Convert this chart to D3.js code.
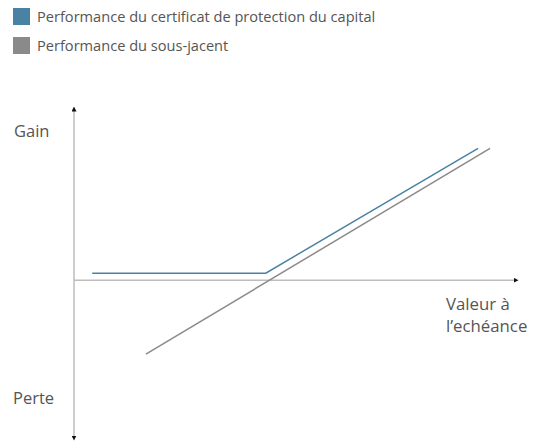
<!DOCTYPE html>
<html>
<head>
<meta charset="utf-8">
<script src="https://cdn.jsdelivr.net/npm/d3@7"></script>
<style>
  html, body { margin: 0; padding: 0; background: #fff; }
  svg { display: block; }
  text { font-family: "Open Sans", "Noto Sans", sans-serif; fill: #555; }
</style>
</head>
<body>
<div id="chart"></div>
<script>
// Series (abstract payoff diagram units)
const seriesNames = ["Performance du certificat de protection du capital", "Performance du sous-jacent"];
const seriesColors = ["#4a82a3", "#8a8a8a"];
const certX = [4.1, 43.2, 91.0];
const certY = [2.1, 2.1, 39.6];
const underX = [16.2, 93.7];
const underY = [-22.2, 39.6];
const yLabels = ["Gain", "Perte"];
const xLabelLines = ["Valeur à", "l\u2019echéance"];

const W = 534, H = 444;
const svg = d3.select("#chart").append("svg").attr("width", W).attr("height", H);

const x = d3.scaleLinear().domain([0, 100]).range([74, 518]);
const y = d3.scaleLinear().domain([-48, 52]).range([440, 107]);

const defs = svg.append("defs");
defs.append("marker").attr("id", "arr").attr("viewBox", "0 0 10 10")
  .attr("refX", 5).attr("refY", 5).attr("markerWidth", 5).attr("markerHeight", 5)
  .attr("markerUnits", "userSpaceOnUse")
  .attr("orient", "auto")
  .append("path").attr("d", "M0,0 L10,5 L0,10 Z").attr("fill", "#111");

// Legend
const leg = svg.append("g");
seriesNames.forEach((name, i) => {
  const g = leg.append("g").attr("transform", `translate(13,${8 + i * 29})`);
  g.append("rect").attr("width", 17).attr("height", 17).attr("fill", seriesColors[i]);
  g.append("text").attr("x", 24).attr("y", 13.5).attr("font-size", 14.6).text(name);
});

// Axes
svg.append("line").attr("x1", x(0)).attr("x2", x(0)).attr("y1", y(0)).attr("y2", y(52) + 2)
  .attr("stroke", "#bdbdbd").attr("stroke-width", 1.5).attr("marker-end", "url(#arr)");
svg.append("line").attr("x1", x(0)).attr("x2", x(0)).attr("y1", y(0)).attr("y2", y(-48) - 2)
  .attr("stroke", "#bdbdbd").attr("stroke-width", 1.5).attr("marker-end", "url(#arr)");
svg.append("line").attr("x1", x(0)).attr("x2", x(100) - 2).attr("y1", y(0)).attr("y2", y(0))
  .attr("stroke", "#bdbdbd").attr("stroke-width", 1.5).attr("marker-end", "url(#arr)");

// Lines
const line = d3.line().x(d => x(d[0])).y(d => y(d[1]));
svg.append("path").datum(underX.map((v, i) => [v, underY[i]]))
  .attr("d", line).attr("fill", "none").attr("stroke", seriesColors[1]).attr("stroke-width", 1.5);
svg.append("path").datum(certX.map((v, i) => [v, certY[i]]))
  .attr("d", line).attr("fill", "none").attr("stroke", seriesColors[0]).attr("stroke-width", 1.5);

// Axis labels
svg.append("text").attr("x", 14).attr("y", 137).attr("font-size", 16.5).text(yLabels[0]);
svg.append("text").attr("x", 13).attr("y", 404).attr("font-size", 16.5).text(yLabels[1]);
xLabelLines.forEach((t, i) => {
  svg.append("text").attr("x", 446).attr("y", 310 + i * 22).attr("font-size", 16.8).text(t);
});
</script>
</body>
</html>
